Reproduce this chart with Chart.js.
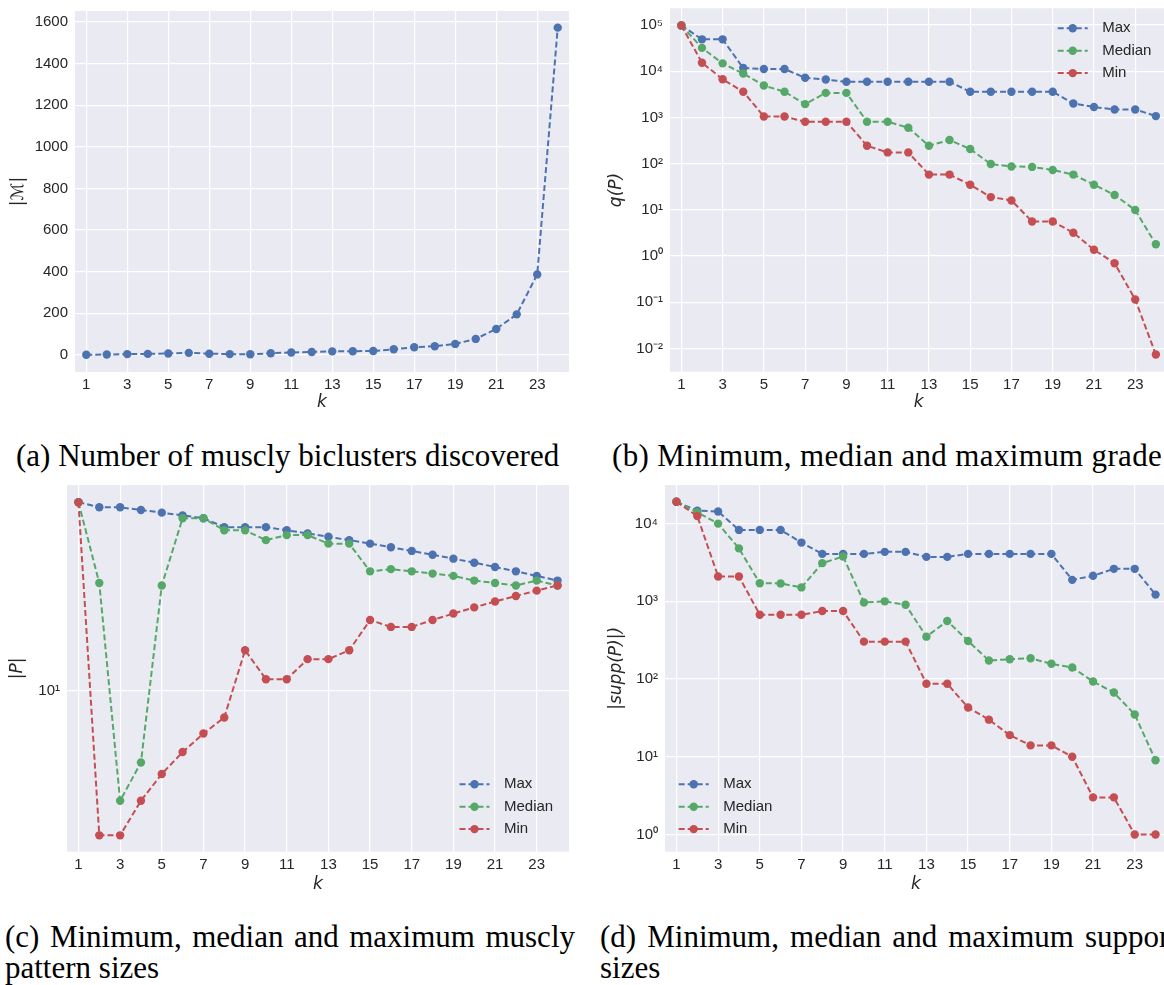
<!DOCTYPE html>
<html>
<head>
<meta charset="utf-8">
<title>Muscly biclusters</title>
<script src="https://cdn.jsdelivr.net/npm/chart.js@4.4.1/dist/chart.umd.min.js"></script>
<style>
    html, body { margin: 0; padding: 0; background: #fff; overflow: hidden; }
    body { width: 1164px; height: 985px; position: relative; }
    canvas { position: absolute; }
    .cap {
        position: absolute;
        font-family: 'Liberation Serif', 'DejaVu Serif', serif;
        font-size: 31px;
        line-height: 31px;
        color: #000;
        white-space: nowrap;
    }
    .just { width: 570px; text-align: justify; text-align-last: justify; }
</style>
</head>
<body>
<canvas id="chartA" width="580" height="416" style="left:0;top:0"></canvas>
<canvas id="chartB" width="600" height="416" style="left:580px;top:0"></canvas>
<canvas id="chartC" width="580" height="416" style="left:0;top:480px"></canvas>
<canvas id="chartD" width="600" height="416" style="left:580px;top:480px"></canvas>

<div class="cap" style="left:16px;top:440px">(a) Number of muscly biclusters discovered</div>
<div class="cap" style="left:612px;top:440px;letter-spacing:0.35px">(b) Minimum, median and maximum grade</div>
<div class="cap just" style="left:5px;top:921px">(c) Minimum, median and maximum muscly</div>
<div class="cap" style="left:5px;top:952px">pattern sizes</div>
<div class="cap just" style="left:600px;top:921px;width:578px">(d) Minimum, median and maximum support</div>
<div class="cap" style="left:600px;top:952px">sizes</div>

<script>
(function () {
    'use strict';

    // x axis: k
    var kValues = [1, 2, 3, 4, 5, 6, 7, 8, 9, 10, 11, 12, 13, 14, 15, 16, 17, 18, 19, 20, 21, 22, 23, 24];
    var kTicks = [1, 3, 5, 7, 9, 11, 13, 15, 17, 19, 21, 23];

    // (a) number of muscly biclusters
    var biclusterCounts = [1, 2, 4, 5, 7, 10, 6, 4, 3, 8, 12, 14, 17, 18, 19, 27, 37, 42, 53, 77, 125, 195, 387, 1573];
    var countTicks = [0, 200, 400, 600, 800, 1000, 1200, 1400, 1600];

    // (b) grade q(P)
    var gradeMax = [98000, 49000, 49000, 11700, 11200, 11200, 7200, 6600, 5900, 5900, 5900, 5900, 5900, 5900, 3600, 3600, 3600, 3600, 3600, 2000, 1680, 1490, 1490, 1070];
    var gradeMedian = [98000, 32000, 14800, 8900, 4900, 3600, 1940, 3400, 3400, 807, 807, 598, 244, 324, 207, 98, 87, 85, 73, 58, 35, 21, 9.9, 1.8];
    var gradeMin = [98000, 15300, 6700, 3600, 1050, 1050, 807, 807, 807, 244, 175, 175, 58, 58, 35, 18.9, 16, 5.6, 5.6, 3.2, 1.37, 0.7, 0.115, 0.0074];
    var gradeTicks = [0.01, 0.1, 1, 10, 100, 1000, 10000, 100000];

    // (c) pattern sizes |P|
    var sizeMax = [48, 46, 46, 45, 44, 43, 42, 39, 39, 39, 38, 37, 36, 35, 34, 33, 32, 31, 30, 29, 28, 27, 26, 25];
    var sizeMedian = [48, 24.5, 4, 5.5, 24, 42, 42, 38, 38, 35, 36.5, 36.5, 34, 34, 27, 27.5, 27, 26.5, 26, 25, 24.5, 24, 25, 24];
    var sizeMin = [48, 3, 3, 4, 5, 6, 7, 8, 14, 11, 11, 13, 13, 14, 18, 17, 17, 18, 19, 20, 21, 22, 23, 24];
    var sizeTicks = [10];

    // (d) support sizes |supp(P)|
    var suppMax = [19100, 14700, 14300, 8300, 8300, 8300, 5700, 4080, 4080, 4080, 4330, 4330, 3730, 3730, 4080, 4080, 4080, 4080, 4080, 1890, 2130, 2620, 2620, 1220];
    var suppMedian = [19100, 14000, 10000, 4800, 1710, 1700, 1510, 3100, 3770, 968, 1000, 904, 351, 558, 309, 173, 180, 185, 157, 141, 93, 67, 35, 9];
    var suppMin = [19100, 12500, 2090, 2090, 673, 673, 673, 750, 750, 303, 303, 303, 87, 87, 43, 30, 19, 14, 14, 10, 3, 3, 1, 1];
    var suppTicks = [1, 10, 100, 1000, 10000];

    var BLUE = '#4c72b0';
    var GREEN = '#55a868';
    var RED = '#c44e52';
    var INK = '#262626';
    var TICK_FONT = { 'family': '"Liberation Sans", Arial, sans-serif', 'size': 15 };
    var TITLE_FONT = { 'family': '"DejaVu Sans", sans-serif', 'size': 17, 'style': 'italic' };

    var SUP = { '-': '\u207b', '0': '\u2070', '1': '\u00b9', '2': '\u00b2', '3': '\u00b3',
        '4': '\u2074', '5': '\u2075', '6': '\u2076', '7': '\u2077', '8': '\u2078', '9': '\u2079' };

    function pow10Label(v) {
        var e = String(Math.round(Math.log10(v)));
        return '10' + e.split('').map(function (c) { return SUP[c]; }).join('');
    }

    // grey panel behind the grid
    var panelBg = {
        'id': 'panelBg',
        'beforeDraw': function (chart) {
            var a = chart.chartArea;
            chart.ctx.save();
            chart.ctx.fillStyle = '#eaeaf2';
            chart.ctx.fillRect(a.left, a.top, a.right - a.left, a.bottom - a.top);
            chart.ctx.restore();
        }
    };

    // matplotlib style legend: dashed line with a marker, drawn inside the axes
    var inLegend = {
        'id': 'inLegend',
        'afterDraw': function (chart, args, opts) {
            if (!opts || !opts.corner) return;
            var a = chart.chartArea;
            var ctx = chart.ctx;
            var sets = chart.data.datasets;
            var rowH = 22.4, lineW = 30, textGap = 44.5;
            var x0 = opts.corner === 'll' ? a.left + 13.7 : a.right - 109.5;
            var y0 = opts.corner === 'ur' ? a.top + 20 : a.bottom - 22.6 - rowH * (sets.length - 1);

            ctx.save();
            sets.forEach(function (ds, i) {
                var y = y0 + i * rowH;
                ctx.strokeStyle = ds.borderColor;
                ctx.lineWidth = ds.borderWidth;
                ctx.setLineDash(ds.borderDash);
                ctx.beginPath();
                ctx.moveTo(x0, y);
                ctx.lineTo(x0 + lineW, y);
                ctx.stroke();
                ctx.setLineDash([]);
                ctx.fillStyle = ds.pointBackgroundColor;
                ctx.beginPath();
                ctx.arc(x0 + lineW / 2, y, ds.pointRadius, 0, Math.PI * 2);
                ctx.fill();
                ctx.fillStyle = INK;
                ctx.font = '15px "Liberation Sans", Arial, sans-serif';
                ctx.textBaseline = 'middle';
                ctx.textAlign = 'left';
                ctx.fillText(ds.label, x0 + textGap, y);
            });
            ctx.restore();
        }
    };

    function series(label, values, color, order) {
        return {
            'label': label,
            'data': values.map(function (v, i) { return { 'x': kValues[i], 'y': v }; }),
            'borderColor': color,
            'backgroundColor': color,
            'pointBackgroundColor': color,
            'pointBorderWidth': 0,
            'pointRadius': 4.2,
            'pointHoverRadius': 4.2,
            'borderWidth': 2,
            'borderDash': [6, 3],
            'tension': 0,
            'fill': false,
            'order': order
        };
    }

    function makeChart(id, cfg) {
        var yTicks = cfg.yTicks;
        var isLog = cfg.yType === 'logarithmic';

        return new Chart(document.getElementById(id), { //eslint-disable-line
            'type': 'line',
            'data': { 'datasets': cfg.datasets },
            'plugins': [panelBg, inLegend],
            'options': {
                'responsive': false,
                'animation': false,
                'devicePixelRatio': 1,
                'events': [],
                'layout': { 'padding': cfg.padding },
                'plugins': {
                    'legend': { 'display': false },
                    'tooltip': { 'enabled': false },
                    'inLegend': { 'corner': cfg.legend }
                },
                'scales': {
                    'x': {
                        'type': 'linear',
                        'min': 0.45,
                        'max': 24.55,
                        'afterBuildTicks': function (s) {
                            s.ticks = kTicks.map(function (v) { return { 'value': v }; });
                        },
                        'afterFit': function (s) {
                            s.height = cfg.xHeight;
                            s.paddingLeft = 0;
                            s.paddingRight = 0;
                        },
                        'ticks': {
                            'autoSkip': false,
                            'maxRotation': 0,
                            'padding': 4,
                            'color': INK,
                            'font': TICK_FONT,
                            'callback': function (v) { return String(v); }
                        },
                        'grid': { 'color': '#ffffff', 'lineWidth': 1.2, 'drawTicks': false },
                        'border': { 'display': false },
                        'title': {
                            'display': true,
                            'text': 'k',
                            'color': INK,
                            'font': TITLE_FONT,
                            'padding': { 'top': 0, 'bottom': cfg.xTitlePad }
                        }
                    },
                    'y': {
                        'type': cfg.yType,
                        'min': cfg.yMin,
                        'max': cfg.yMax,
                        'afterBuildTicks': function (s) {
                            s.ticks = yTicks.map(function (v) { return { 'value': v }; });
                        },
                        'afterFit': function (s) {
                            s.width = cfg.yWidth;
                            s.paddingTop = 0;
                            s.paddingBottom = 0;
                        },
                        'ticks': {
                            'autoSkip': false,
                            'padding': 7,
                            'color': INK,
                            'font': TICK_FONT,
                            'callback': function (v) { return isLog ? pow10Label(v) : String(v); }
                        },
                        'grid': { 'color': '#ffffff', 'lineWidth': 1.2, 'drawTicks': false },
                        'border': { 'display': false },
                        'title': {
                            'display': true,
                            'text': cfg.yTitle,
                            'color': INK,
                            'font': TITLE_FONT,
                            'padding': { 'top': cfg.yTitlePad, 'bottom': 0 }
                        }
                    }
                }
            }
        });
    }

    makeChart('chartA', {
        'datasets': [series('count', biclusterCounts, BLUE, 1)],
        'padding': { 'top': 11, 'right': 11, 'left': 0, 'bottom': 0 },
        'yType': 'linear', 'yMin': -82, 'yMax': 1653, 'yTicks': countTicks,
        'yWidth': 75, 'xHeight': 44, 'yTitle': '|\u2133|', 'yTitlePad': 8.3, 'xTitlePad': 2.8
    });

    makeChart('chartB', {
        'datasets': [series('Max', gradeMax, BLUE, 3), series('Median', gradeMedian, GREEN, 2), series('Min', gradeMin, RED, 1)],
        'padding': { 'top': 8.3, 'right': 12.8, 'left': 0, 'bottom': 0 },
        'yType': 'logarithmic', 'yMin': Math.pow(10, -2.502), 'yMax': Math.pow(10, 5.3616), 'yTicks': gradeTicks,
        'yWidth': 90, 'xHeight': 44.3, 'yTitle': 'q(P)', 'yTitlePad': 26.8, 'xTitlePad': 2.8,
        'legend': 'ur'
    });

    makeChart('chartC', {
        'datasets': [series('Max', sizeMax, BLUE, 3), series('Median', sizeMedian, GREEN, 2), series('Min', sizeMin, RED, 1)],
        'padding': { 'top': 5, 'right': 11, 'left': 0, 'bottom': 0 },
        'yType': 'logarithmic', 'yMin': Math.pow(10, 0.418), 'yMax': Math.pow(10, 1.7434), 'yTicks': sizeTicks,
        'yWidth': 67, 'xHeight': 44.3, 'yTitle': '|P|', 'yTitlePad': 7.6, 'xTitlePad': 1.3,
        'legend': 'lr'
    });

    makeChart('chartD', {
        'datasets': [series('Max', suppMax, BLUE, 3), series('Median', suppMedian, GREEN, 2), series('Min', suppMin, RED, 1)],
        'padding': { 'top': 5, 'right': 13, 'left': 0, 'bottom': 0 },
        'yType': 'logarithmic', 'yMin': Math.pow(10, -0.2105), 'yMax': Math.pow(10, 4.497), 'yTicks': suppTicks,
        'yWidth': 85, 'xHeight': 44.3, 'yTitle': '|supp(P)|)', 'yTitlePad': 26.8, 'xTitlePad': 1.3,
        'legend': 'll'
    });
}());
</script>
</body>
</html>
